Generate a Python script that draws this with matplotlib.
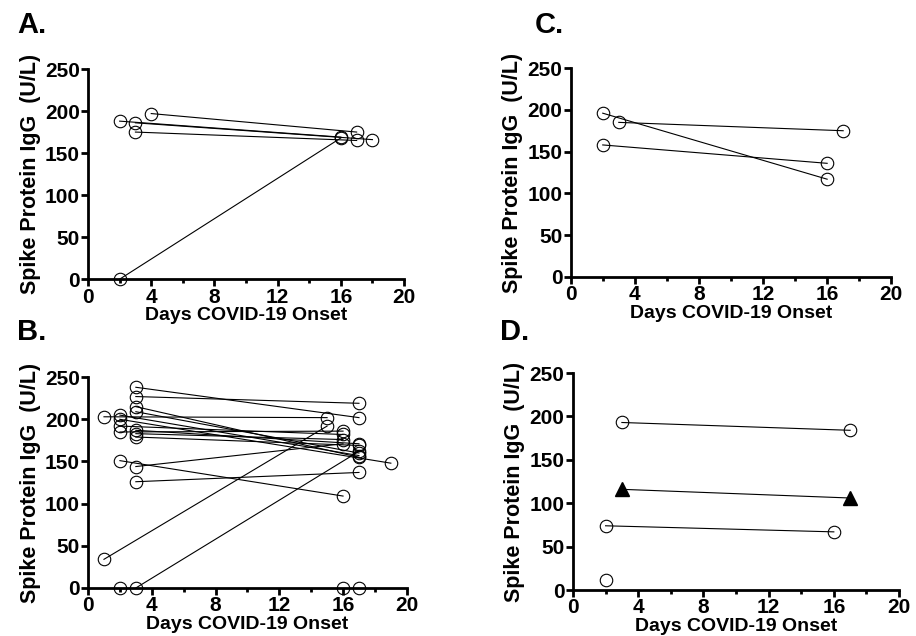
import matplotlib.pyplot as plt
from matplotlib.ticker import MultipleLocator

plt.rcParams['font.family'] = ['Liberation Sans', 'DejaVu Sans']
plt.rcParams['font.weight'] = 'bold'

# each pair: (day1, value1, day2, value2)
A_PAIRS = [
    (4, 197, 17, 175),
    (2, 188, 16, 169),
    (3, 186, 18, 166),
    (3, 175, 17, 165),
    (2, 0, 16, 168),
]
A_SINGLE = []

B_PAIRS = [
    (3, 238, 17, 202),
    (3, 227, 17, 219),
    (3, 215, 17, 155),
    (3, 209, 17, 160),
    (1, 203, 15, 202),
    (2, 205, 17, 157),
    (2, 200, 19, 148),
    (2, 192, 16, 182),
    (2, 185, 16, 186),
    (3, 187, 17, 171),
    (3, 183, 16, 176),
    (3, 179, 17, 169),
    (2, 151, 16, 109),
    (3, 144, 16, 171),
    (3, 126, 17, 137),
    (1, 34, 15, 192),
    (3, 0, 17, 162),
]
B_SINGLE = [(2, 0), (16, 0), (17, 0)]

C_PAIRS = [
    (2, 196, 16, 117),
    (3, 185, 17, 175),
    (2, 158, 16, 136),
]
C_SINGLE = []

D_PAIRS = [
    (3, 193, 17, 184),
    (2, 74, 16, 67),
]
D_TRI = [(3, 116, 17, 106)]
D_SINGLE = [(2, 12)]


def draw(ax, pairs, singles, tri=()):
    for x1, y1, x2, y2 in pairs:
        ax.plot([x1, x2], [y1, y2], color='black', lw=0.8, marker='o', ms=9,
                mfc='none', mec='black', mew=0.8, clip_on=False, zorder=3)
    for x1, y1, x2, y2 in tri:
        ax.plot([x1, x2], [y1, y2], color='black', lw=0.8, marker='^', ms=10,
                mfc='black', mec='black', clip_on=False, zorder=3)
    for x, y in singles:
        ax.plot([x], [y], marker='o', ms=9, mfc='none', mec='black', mew=0.8,
                ls='none', clip_on=False, zorder=3)
    ax.set_xlim(0, 20)
    ax.set_ylim(0, 250)
    ax.xaxis.set_major_locator(MultipleLocator(4))
    ax.xaxis.set_minor_locator(MultipleLocator(2))
    ax.yaxis.set_major_locator(MultipleLocator(50))
    for s in ['top', 'right']:
        ax.spines[s].set_visible(False)
    for s in ['left', 'bottom']:
        ax.spines[s].set_linewidth(2)
    ax.tick_params(which='major', width=2, length=5, labelsize=15, pad=1)
    ax.tick_params(which='minor', width=2, length=3)
    for lab in ax.get_xticklabels() + ax.get_yticklabels():
        lab.set_fontweight('bold')
    ax.set_xlabel('Days COVID-19 Onset', fontsize=14, fontweight='bold', labelpad=0.5)
    ax.set_ylabel('Spike Protein IgG  (U/L)', fontsize=15.5, fontweight='bold', labelpad=3)


fig = plt.figure(figsize=(9.16, 6.36), dpi=100)
axA = fig.add_axes([0.0961, 0.561, 0.345, 0.3305])
axB = fig.add_axes([0.0961, 0.0755, 0.348, 0.3315])
axC = fig.add_axes([0.623, 0.5645, 0.350, 0.3285])
axD = fig.add_axes([0.6255, 0.0723, 0.356, 0.3412])

draw(axA, A_PAIRS, A_SINGLE)
draw(axB, B_PAIRS, B_SINGLE)
draw(axC, C_PAIRS, C_SINGLE)
draw(axD, D_PAIRS, D_SINGLE, D_TRI)

fig.text(17 / 916, 1 - 33 / 636, 'A.', fontsize=21, fontweight='bold')
fig.text(17 / 916, 1 - 340 / 636, 'B.', fontsize=21, fontweight='bold')
fig.text(535 / 916, 1 - 33 / 636, 'C.', fontsize=21, fontweight='bold')
fig.text(500 / 916, 1 - 340 / 636, 'D.', fontsize=21, fontweight='bold')

fig.savefig('out.png', dpi=100)
